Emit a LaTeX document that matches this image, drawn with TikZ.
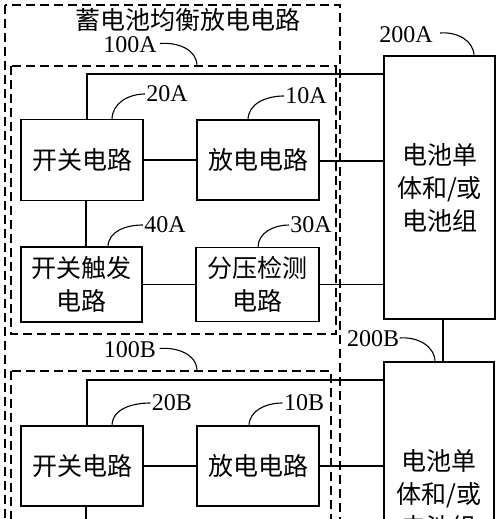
\documentclass[tikz,border=0pt]{standalone}
\usepackage{fontspec}
\setmainfont{Liberation Serif}
\newfontfamily\cjk{Noto Sans CJK SC}
\begin{document}
\begin{tikzpicture}[x=1pt,y=1pt,
  line width=1.1pt,
  blk/.style={draw, line width=1.2pt, inner sep=0pt, outer sep=0pt, align=center,
    font=\cjk\fontsize{25}{33}\selectfont},
  dbox/.style={draw, line width=1.1pt, dash pattern=on 9pt off 5pt},
  num/.style={inner sep=0pt, font=\fontsize{24}{24}\selectfont},
  lead/.style={line width=1.1pt}]
\useasboundingbox (0,0) rectangle (500,-519);
\clip (0,0) rectangle (500,-519);
% dashed frames
\draw[dbox] (5,-5) rectangle (340,-560);
\draw[dbox] (11,-66) rectangle (336,-334);
\draw[dbox] (11,-371) rectangle (331,-560);
\node[inner sep=0pt, font=\cjk\fontsize{25}{25}\selectfont] (title) at (188,-20) {蓄电池均衡放电电路};
% group A
\node[blk, minimum width=122pt, minimum height=81pt] (swA) at (82,-160) {开关电路};
\node[blk, minimum width=122pt, minimum height=80pt] (dcA) at (258,-160) {放电电路};
\node[blk, minimum width=121pt, minimum height=75pt] (trA) at (81.5,-284.5) {开关触发\\电路};
\node[blk, minimum width=123pt, minimum height=74pt] (vdA) at (257.5,-284.5) {分压检测\\电路};
\node[blk, minimum width=111pt, minimum height=263pt] (batA) at (439.5,-187.5) {电池单\\体和/或\\电池组};
% group B
\node[blk, minimum width=122pt, minimum height=80pt] (swB) at (82,-466) {开关电路};
\node[blk, minimum width=122pt, minimum height=80pt] (dcB) at (258,-466) {放电电路};
\node[blk, minimum width=110pt, minimum height=263pt] (batB) at (439,-493.5) {电池单\\体和/或\\电池组};
\coordinate (swBdown) at (86,-530);
% wires A
\draw (swA.north -| 87,0) |- (batA.west |- 0,-74);
\draw (swA) -- (dcA);
\draw (dcA.east) ++(0,-1) -- (batA.west |- 0,-161);
\draw (swA.south -| 86,0) -- (trA.north -| 86,0);
\draw (trA.east) -- (vdA.west |- trA.east);
\draw (vdA.east) -- (batA.west |- vdA.east);
\draw (batA.south -| 443,0) -- (batB.north -| 443,0);
% wires B
\draw (swB.north -| 87,0) |- (batB.west |- 0,-380);
\draw (swB) -- (dcB);
\draw (dcB.east) -- (batB.west |- dcB.east);
\draw (swB.south -| 86,0) -- (swBdown);
% labels
\node[num] (l100A) at (130,-44.5) {100A};
\node[num] (l100B) at (130,-349.5) {100B};
\node[num] (l20A) at (167,-94) {20A};
\node[num] (l10A) at (306,-96) {10A};
\node[num] (l40A) at (165,-225) {40A};
\node[num] (l30A) at (311,-225) {30A};
\node[num] (l20B) at (172,-403) {20B};
\node[num] (l10B) at (304,-403) {10B};
\node[num] (l200A) at (406,-35) {200A};
\node[num] (l200B) at (373,-339) {200B};
% leaders
\draw[lead] (l100A.east) ++(3,1) to[out=5,in=90] (197,-66);
\draw[lead] (l100B.east) ++(3,1) to[out=5,in=90] (197,-371);
\draw[lead] (swA.north -| 112,0) to[out=90,in=180] ([xshift=-1pt]l20A.west);
\draw[lead] (dcA.north -| 248,0) to[out=90,in=180] ([xshift=-1pt]l10A.west);
\draw[lead] (trA.north -| 108,0) to[out=90,in=180] ([xshift=-1pt]l40A.west);
\draw[lead] (vdA.north -| 258,0) to[out=90,in=180] ([xshift=-1pt]l30A.west);
\draw[lead] (swB.north -| 112,0) to[out=90,in=180] ([xshift=-1pt]l20B.west);
\draw[lead] (dcB.north -| 249,0) to[out=90,in=180] ([xshift=-1pt]l10B.west);
\draw[lead] (l200A.east) ++(7,2) to[out=5,in=90] (batA.north -| 474,0);
\draw[lead] (l200B.east) ++(0,1) to[out=5,in=90] (batB.north -| 435,0);
\end{tikzpicture}
\end{document}
